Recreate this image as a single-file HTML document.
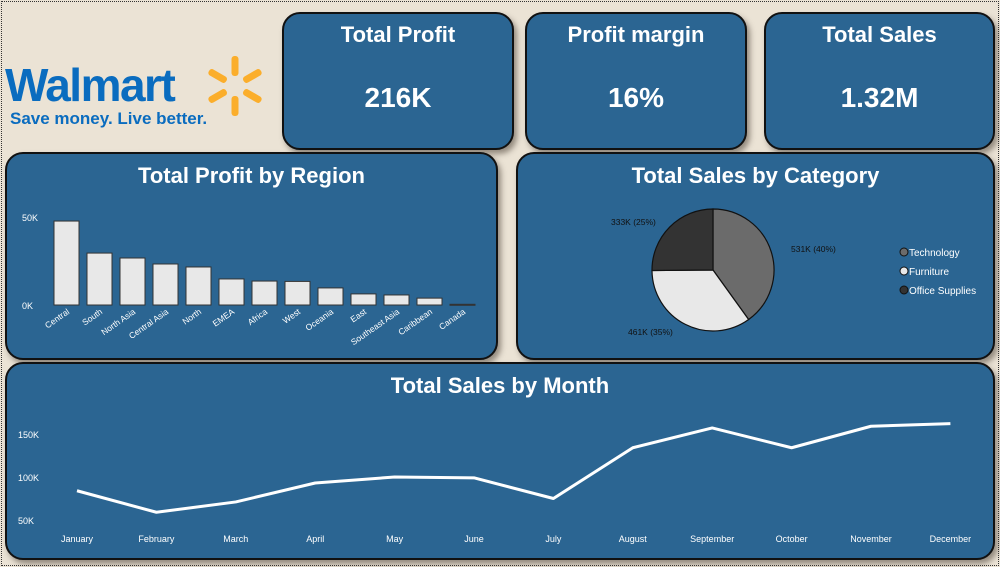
<!DOCTYPE html>
<html><head><meta charset="utf-8"><style>
body{margin:0;width:1000px;height:567px;overflow:hidden;background:#ebe3d5;font-family:"Liberation Sans",sans-serif}
.card{position:absolute;background:#2b6592;border:2px solid #111;border-radius:18px;box-shadow:3px 4px 6px rgba(60,50,40,.5);box-sizing:border-box;color:#fff}
.kt{position:absolute;top:8px;width:100%;text-align:center;font-size:22px;font-weight:bold}
.kv{position:absolute;top:68px;width:100%;text-align:center;font-size:28px;font-weight:bold}
svg text{font-family:"Liberation Sans",sans-serif}
</style></head><body>
<div style="position:absolute;left:1px;top:1px;width:996px;height:563px;border:1px dotted #333"></div>
<div style="position:absolute;left:5px;top:55px;width:270px;height:75px">
 <div style="position:absolute;left:0;top:3px;font-size:46px;font-weight:bold;color:#0a6cbf;letter-spacing:-1.5px">Walmart</div>
 <div style="position:absolute;left:5px;top:54px;font-size:17px;font-weight:bold;color:#0a6cbf">Save money. Live better.</div>
 <svg style="position:absolute;left:197px;top:-2px" width="66" height="66" viewBox="-33 -33 66 66">
  <g fill="#fbae2b"><rect x="-3.5" y="-30" width="7" height="20" rx="3"/><rect x="-3.5" y="-30" width="7" height="20" rx="3" transform="rotate(60)"/><rect x="-3.5" y="-30" width="7" height="20" rx="3" transform="rotate(120)"/><rect x="-3.5" y="-30" width="7" height="20" rx="3" transform="rotate(180)"/><rect x="-3.5" y="-30" width="7" height="20" rx="3" transform="rotate(240)"/><rect x="-3.5" y="-30" width="7" height="20" rx="3" transform="rotate(300)"/></g>
 </svg>
</div>
<div class="card" style="left:282px;top:12px;width:232px;height:138px"><div class="kt">Total Profit</div><div class="kv">216K</div></div>
<div class="card" style="left:525px;top:12px;width:222px;height:138px"><div class="kt">Profit margin</div><div class="kv">16%</div></div>
<div class="card" style="left:764px;top:12px;width:231px;height:138px"><div class="kt">Total Sales</div><div class="kv">1.32M</div></div>
<div class="card" style="left:5px;top:152px;width:493px;height:208px"><div class="kt" style="top:9px">Total Profit by Region</div></div>
<div class="card" style="left:516px;top:152px;width:479px;height:208px"><div class="kt" style="top:9px">Total Sales by Category</div></div>
<div class="card" style="left:5px;top:362px;width:990px;height:198px"><div class="kt" style="top:9px">Total Sales by Month</div></div>
<svg id="ov" width="1000" height="567" style="position:absolute;left:0;top:0"></svg>
<script>
const regions=["Central","South","North Asia","Central Asia","North","EMEA","Africa","West","Oceania","East","Southeast Asia","Caribbean","Canada"];
const regionProfit=[47.7,29.5,26.7,23.3,21.6,14.8,13.6,13.4,9.7,6.3,5.7,3.9,0.4];
const regionTicks=[0,50];
const categories=["Technology","Furniture","Office Supplies"];
const categorySales=[531,461,333];
const categoryLabels=["531K (40%)","461K (35%)","333K (25%)"];
const months=["January","February","March","April","May","June","July","August","September","October","November","December"];
const monthSales=[84,59,71,93,100,99,75,134,157,134,159,162];
const monthTicks=[50,100,150];
const NS="http://www.w3.org/2000/svg",svg=document.getElementById('ov');
function mk(t,a,p){const e=document.createElementNS(NS,t);for(const k in a)e.setAttribute(k,a[k]);(p||svg).appendChild(e);return e;}
const by=v=>305-v*88/50, bx=i=>54+i*33;
regionTicks.forEach(t=>{const e=mk('text',{x:22,y:by(t)+4,fill:'#fff','font-size':9});e.textContent=t+'K';});
regions.forEach((r,i)=>{const v=regionProfit[i];
 const b=mk('rect',{x:bx(i),y:by(v),width:25,height:Math.max(1,305-by(v)),fill:'#e8e8e8',stroke:'#333','stroke-width':1});
 
 const cx=bx(i)+16;const t=mk('text',{x:cx,y:313,fill:'#fff','font-size':8.5,'text-anchor':'end',transform:`rotate(-35 ${cx} 313)`});t.textContent=r;
 });
const cx=713,cy=270,R=61,tot=categorySales.reduce((a,b)=>a+b,0),cols=['#6b6b6b','#e8e8e8','#333333'];
let a0=-Math.PI/2;
const lpos=[[791,252,'start'],[628,335,'start'],[611,225,'start']];
categories.forEach((c,i)=>{const a1=a0+categorySales[i]/tot*2*Math.PI;
 const p=`M${cx},${cy}L${cx+R*Math.cos(a0)},${cy+R*Math.sin(a0)}A${R},${R} 0 ${a1-a0>Math.PI?1:0} 1 ${cx+R*Math.cos(a1)},${cy+R*Math.sin(a1)}Z`;
 const s=mk('path',{d:p,fill:cols[i],stroke:'#111','stroke-width':1.2});
 const t=mk('text',{x:lpos[i][0],y:lpos[i][1],fill:'#111','font-size':8.5});t.textContent=categoryLabels[i];
 const lg=mk('circle',{cx:904,cy:252+i*19,r:4,fill:cols[i],stroke:'#111'});
 const lt=mk('text',{x:909,y:256+i*19,fill:'#fff','font-size':10});lt.textContent=c;
 a0=a1;});
const ly=v=>520-(v-50)*43/50, lx=i=>77+i*79.4;
monthTicks.forEach(t=>{const e=mk('text',{x:18,y:ly(t)+4,fill:'#fff','font-size':9});e.textContent=t+'K';});
months.forEach((m,i)=>{const e=mk('text',{x:lx(i),y:542,fill:'#fff','font-size':9,'text-anchor':'middle'});e.textContent=m;});
const ln=mk('polyline',{points:monthSales.map((v,i)=>lx(i)+','+ly(v)).join(' '),fill:'none',stroke:'#fff','stroke-width':3,'stroke-linejoin':'round'});

</script>
</body></html>
